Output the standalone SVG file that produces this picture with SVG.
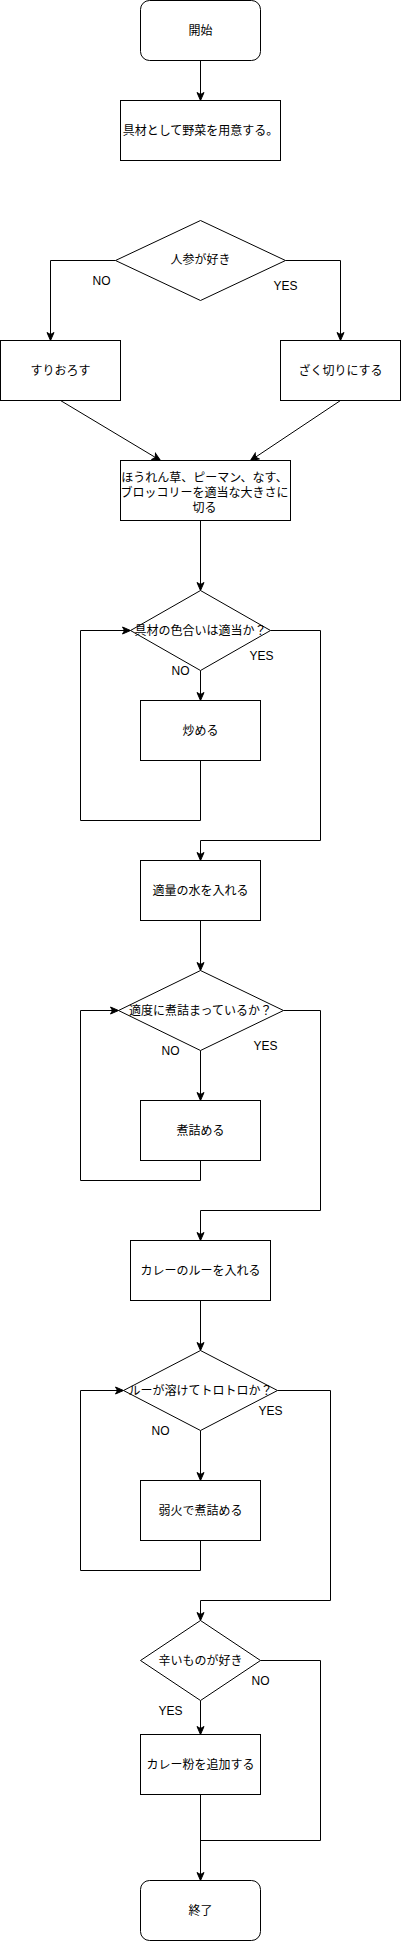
<svg xmlns="http://www.w3.org/2000/svg" width="401" height="1941" viewBox="0 0 401 1941">
<style>
.n{fill:#fff;stroke:#000;stroke-width:1}
.t{font-family:"Liberation Sans","Noto Sans CJK JP",sans-serif;font-size:12px;fill:#000;text-anchor:middle;dominant-baseline:central}
.l{font-family:"Liberation Sans","Noto Sans CJK JP",sans-serif;font-size:12px;fill:#000;text-anchor:middle;dominant-baseline:central}
.c{fill:none;stroke:#000;stroke-width:1}
.a{marker-end:url(#arr)}
</style>
<defs>
<marker id="arr" markerUnits="userSpaceOnUse" markerWidth="10" markerHeight="9" refX="9" refY="4.5" orient="auto">
<path d="M1,1 L9,4.5 L1,8 L3,4.5 Z" fill="#000" stroke="#000" stroke-width="1"/>
</marker>
</defs>
<rect width="401" height="1941" fill="#fff"/>
<g transform="translate(0.5,0.5)">
<g id="connectors">
<path class="c a" d="M200,60 L200,100"/>
<path class="c a" d="M115,260 L50,260 L50,340"/>
<path class="c a" d="M285,260 L340,260 L340,340"/>
<path class="c a" d="M60,400 L160,460"/>
<path class="c a" d="M340,400 L250,460"/>
<path class="c a" d="M200,520 L200,590"/>
<path class="c a" d="M200,670 L200,700"/>
<path class="c a" d="M200,760 L200,820 L80,820 L80,630 L130,630"/>
<path class="c a" d="M270,630 L320,630 L320,840 L200,840 L200,860"/>
<path class="c a" d="M200,920 L200,970"/>
<path class="c a" d="M200,1050 L200,1100"/>
<path class="c a" d="M200,1160 L200,1180 L80,1180 L80,1010 L118,1010"/>
<path class="c a" d="M283,1010 L320,1010 L320,1210 L200,1210 L200,1240"/>
<path class="c a" d="M200,1300 L200,1350"/>
<path class="c a" d="M200,1430 L200,1480"/>
<path class="c a" d="M200,1540 L200,1570 L80,1570 L80,1390 L123,1390"/>
<path class="c a" d="M277,1390 L330,1390 L330,1600 L200,1600 L200,1620"/>
<path class="c a" d="M200,1700 L200,1734"/>
<path class="c" d="M260,1660 L320,1660 L320,1840 L200,1840"/>
<path class="c a" d="M200,1794 L200,1880"/>
</g>
<g id="labels">
<text class="l" x="101" y="280">NO</text>
<text class="l" x="285" y="285">YES</text>
<text class="l" x="180" y="670">NO</text>
<text class="l" x="261" y="655">YES</text>
<text class="l" x="170" y="1050">NO</text>
<text class="l" x="265" y="1045">YES</text>
<text class="l" x="160" y="1430">NO</text>
<text class="l" x="270" y="1410">YES</text>
<text class="l" x="260" y="1680">NO</text>
<text class="l" x="170" y="1710">YES</text>
</g>
<g id="start"><rect class="n" x="140" y="0" width="120" height="60" rx="9" ry="9"/><text class="t" x="200" y="30">開始</text></g>
<g id="prepare"><rect class="n" x="120" y="100" width="160" height="60"/><text class="t" x="200" y="130">具材として野菜を用意する。</text></g>
<g id="q-carrot"><polygon class="n" points="200,220 285,260 200,300 115,260"/><text class="t" x="200" y="259">人参が好き</text></g>
<g id="grate"><rect class="n" x="0" y="340" width="120" height="60"/><text class="t" x="60" y="370">すりおろす</text></g>
<g id="chop"><rect class="n" x="280" y="340" width="120" height="60"/><text class="t" x="340" y="370">ざく切りにする</text></g>
<g id="cut"><rect class="n" x="120" y="460" width="170" height="60"/>
<text class="t" x="204" y="477">ほうれん草、ピーマン、なす、</text>
<text class="t" x="204" y="492">ブロッコリーを適当な大きさに</text>
<text class="t" x="204" y="507">切る</text></g>
<g id="q-color"><polygon class="n" points="200,590 270,630 200,670 130,630"/><text class="t" x="200" y="630">具材の色合いは適当か？</text></g>
<g id="fry"><rect class="n" x="140" y="700" width="120" height="60"/><text class="t" x="200" y="730">炒める</text></g>
<g id="water"><rect class="n" x="140" y="860" width="120" height="60"/><text class="t" x="200" y="890">適量の水を入れる</text></g>
<g id="q-simmer"><polygon class="n" points="200,970 283,1010 200,1050 118,1010"/><text class="t" x="200" y="1010">適度に煮詰まっているか？</text></g>
<g id="simmer"><rect class="n" x="140" y="1100" width="120" height="60"/><text class="t" x="200" y="1130">煮詰める</text></g>
<g id="roux"><rect class="n" x="130" y="1240" width="140" height="60"/><text class="t" x="200" y="1270">カレーのルーを入れる</text></g>
<g id="q-melt"><polygon class="n" points="200,1350 277,1390 200,1430 123,1390"/><text class="t" x="200" y="1390">ルーが溶けてトロトロか？</text></g>
<g id="low-heat"><rect class="n" x="140" y="1480" width="120" height="60"/><text class="t" x="200" y="1510">弱火で煮詰める</text></g>
<g id="q-spicy"><polygon class="n" points="200,1620 260,1660 200,1700 140,1660"/><text class="t" x="200" y="1660">辛いものが好き</text></g>
<g id="curry-powder"><rect class="n" x="140" y="1734" width="120" height="60"/><text class="t" x="200" y="1764">カレー粉を追加する</text></g>
<g id="end"><rect class="n" x="140" y="1880" width="120" height="60" rx="9" ry="9"/><text class="t" x="200" y="1910">終了</text></g>
</g>
</svg>
